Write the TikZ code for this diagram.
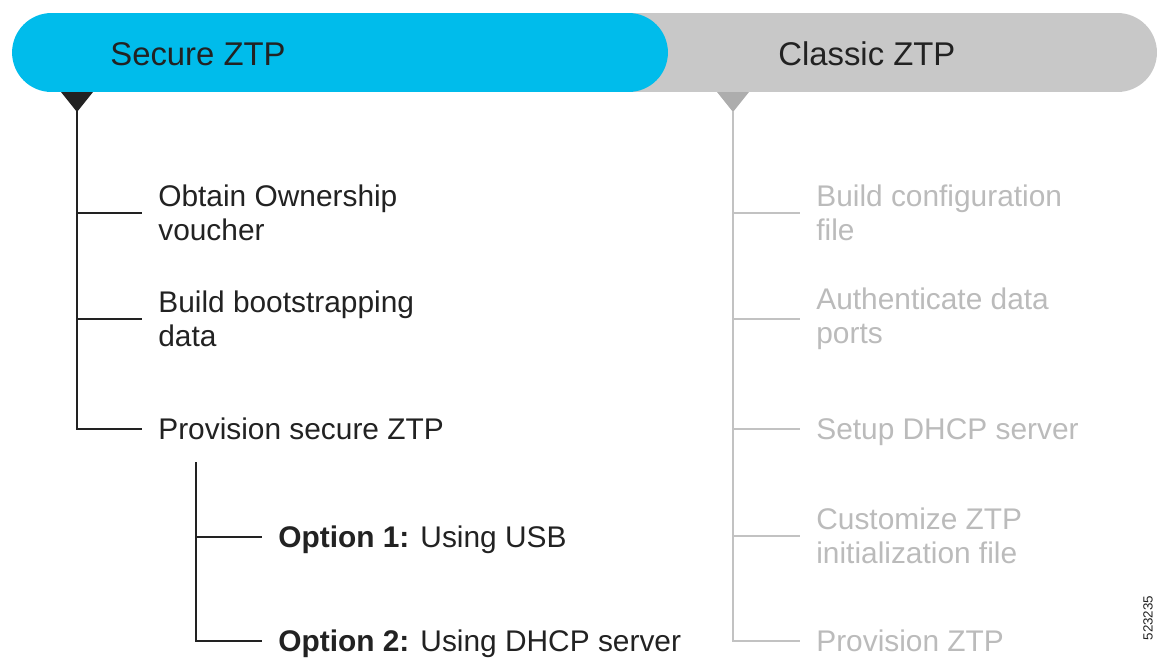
\documentclass[tikz,border=0pt]{standalone}
\usepackage{fontspec}
\setmainfont{Liberation Sans}
\usetikzlibrary{positioning}
\definecolor{ztpblue}{HTML}{00BCEB}
\definecolor{bargray}{HTML}{C8C8C8}
\definecolor{ink}{HTML}{222222}
\definecolor{faded}{HTML}{BBBBBB}
\definecolor{fadedline}{HTML}{C2C2C2}
\definecolor{fadedtip}{HTML}{ADADAD}

\begin{document}
\begin{tikzpicture}[
      x=0.02cm, y=-0.02cm,
      bar/.style={rounded corners=0.79cm, minimum height=1.58cm, inner sep=0pt},
      head/.style={font=\fontsize{18.7}{22}\selectfont, text=ink,
                   anchor=west, inner sep=0pt},
      item/.style={font=\fontsize{17}{19.6}\selectfont, text=ink, align=left,
                   anchor=west, inner ysep=0pt, inner xsep=0.32cm},
      olditem/.style={item, text=faded},
      flat/.style={text depth=0pt},
      trunk/.style={draw=ink, line width=1.1pt},
      oldtrunk/.style={draw=fadedline, line width=1.1pt},
      ]
    \useasboundingbox (0,0) rectangle (1160,660);

    % header bars
    \node[bar, fill=bargray, minimum width=11.94cm] (classicbar) at (858.5,52.5) {};
    \node[bar, fill=ztpblue, minimum width=13.12cm] (securebar) at (340,52.5) {};
    \node[head] (securelbl) at (110,54) {Secure ZTP};
    \node[head] (classiclbl) at (778,54) {Classic ZTP};

    % markers under the bars
    \fill[ink] (61,92) -- (93,92) -- (77,112) -- cycle;
    \coordinate (sectip) at (77,111);
    \fill[fadedtip] (717,92) -- (749,92) -- (733,112) -- cycle;
    \coordinate (clstip) at (733,111);

    % secure ZTP steps
    \node[item] (obtain) at (142,213) {Obtain Ownership\\voucher};
    \node[item] (bootdata) at (142,319) {Build bootstrapping\\data};
    \node[item] (prov) at (142,429) {Provision secure ZTP};
    \node[item, flat] (opt1) at (262,537) {\textbf{Option 1:} Using USB};
    \node[item, flat] (opt2) at (262,641) {\textbf{Option 2:} Using DHCP server};
    \coordinate (subtop) at (196,462);

    % classic ZTP steps
    \node[olditem] (bldcfg) at (800,213) {Build configuration\\file};
    \node[olditem] (auth) at (800,319) {Authenticate data\\ports};
    \node[olditem, flat] (dhcp) at (800,429) {Setup DHCP server};
    \node[olditem] (custom) at (800,536) {Customize ZTP\\initialization file};
    \node[olditem] (provztp) at (800,641) {Provision ZTP};

    \node[rotate=90, font=\fontsize{7.6}{9}\selectfont, text=ink] (figno) at (1148,618) {523235};

    \draw[trunk] (sectip) |- (prov.west);
    \draw[trunk] (sectip |- obtain.west) -- (obtain.west);
    \draw[trunk] (sectip |- bootdata.west) -- (bootdata.west);
    \draw[trunk] (subtop) |- (opt2.west);
    \draw[trunk] (subtop |- opt1.west) -- (opt1.west);

    \draw[oldtrunk] (clstip) |- (provztp.west);
    \draw[oldtrunk] (clstip |- bldcfg.west) -- (bldcfg.west);
    \draw[oldtrunk] (clstip |- auth.west) -- (auth.west);
    \draw[oldtrunk] (clstip |- dhcp.west) -- (dhcp.west);
    \draw[oldtrunk] (clstip |- custom.west) -- (custom.west);
  \end{tikzpicture}
\end{document}
